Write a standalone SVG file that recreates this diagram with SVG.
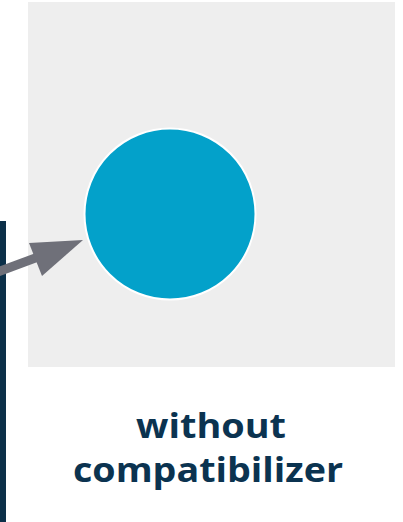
<svg xmlns="http://www.w3.org/2000/svg" width="403" height="522" viewBox="0 0 403 522">
<style>
.lbl{font-family:"Open Sans","Liberation Sans",sans-serif;font-weight:700;font-size:34px;fill:#0b3350;text-anchor:middle}
</style>
<rect width="403" height="522" fill="#ffffff"/>
<g id="panel">
<rect x="28" y="2" width="367" height="365" fill="#eeeeee"/>
</g>
<g id="bar">
<rect x="0" y="221" width="6" height="301" fill="#0c3049"/>
</g>
<g id="particle">
<circle cx="170" cy="214" r="85.5" fill="#03a1ca" stroke="#ffffff" stroke-width="2"/>
</g>
<g id="connectors">
<line x1="-5" y1="273" x2="38" y2="257" stroke="#6f7079" stroke-width="9"/>
<polygon points="83,240 29,243 42,276" fill="#6f7079"/>
</g>
<g id="label">
<text class="lbl" x="211" y="438" textLength="150" lengthAdjust="spacingAndGlyphs">without</text>
<text class="lbl" x="208" y="482" textLength="270" lengthAdjust="spacingAndGlyphs">compatibilizer</text>
</g>
</svg>
